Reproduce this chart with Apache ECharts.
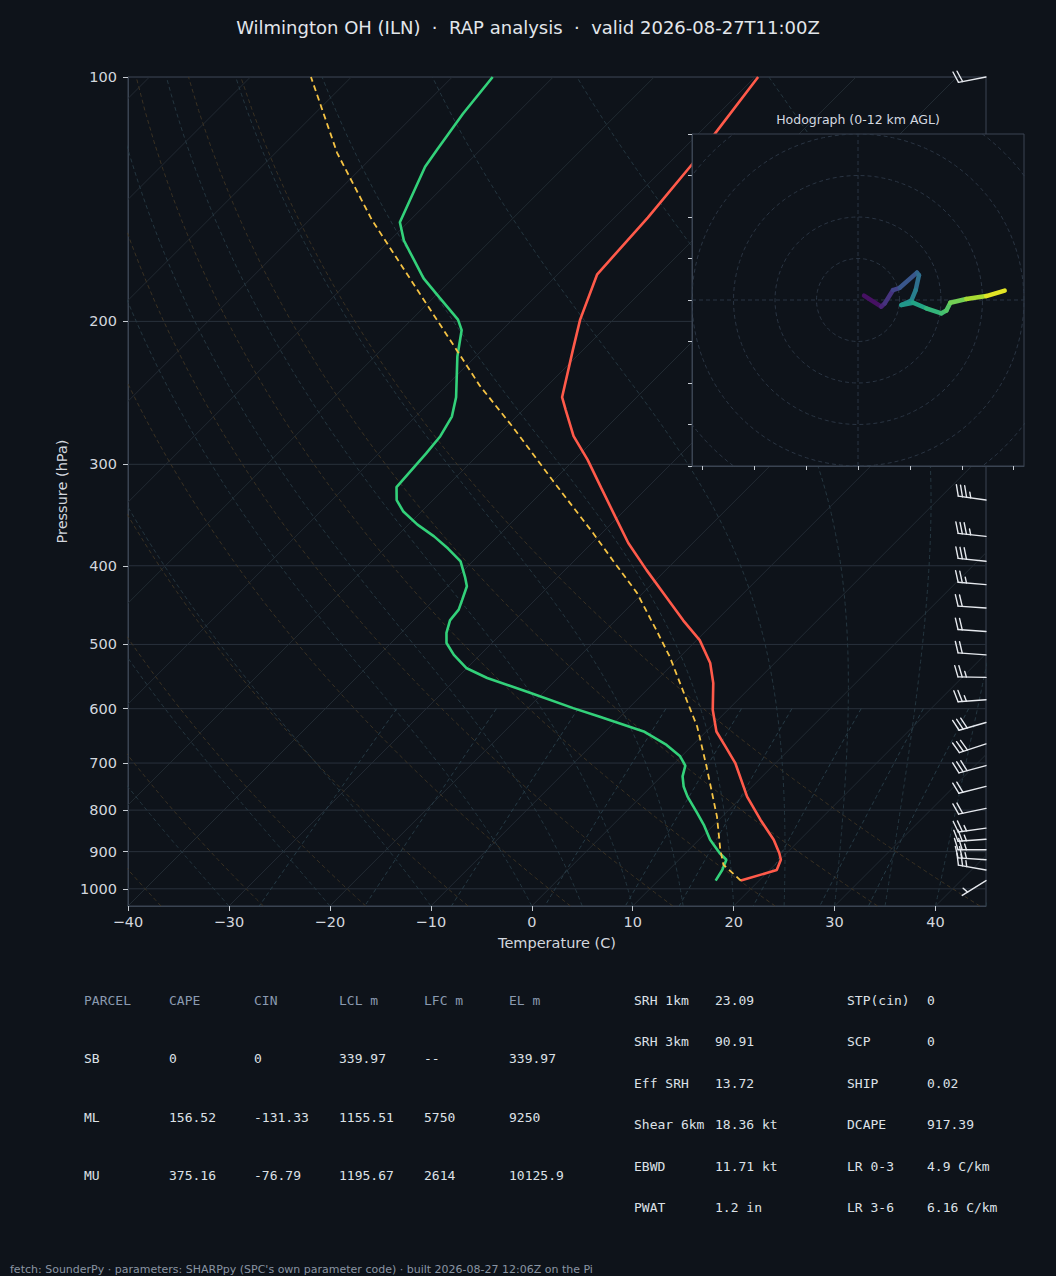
<!DOCTYPE html>
<html>
<head>
<meta charset="utf-8">
<title>Wilmington OH (ILN) skew-T</title>
<script src="https://cdn.jsdelivr.net/npm/echarts@6.0.0/dist/echarts.min.js"></script>
<style>
  html, body { margin: 0; padding: 0; background: #0e131a; }
  #chart { width: 1056px; height: 1276px; }
</style>
</head>
<body>
<div id="chart"></div>
<script>
// ---- sounding data ----
var P_TEMP = [977, 948, 921, 904, 870, 822, 770, 700, 668, 640, 602, 558, 527, 494, 467, 437, 405, 375, 348, 321, 296, 277, 257, 248, 217, 199, 175, 149, 128, 117, 100];
var T_TEMP = [18.2, 20.7, 20.1, 19.3, 17.4, 14.1, 10.5, 6.0, 3.4, 1.0, -1.5, -4.1, -6.4, -9.7, -13.3, -17.3, -21.9, -26.4, -30.3, -34.5, -38.7, -42.4, -45.8, -47.4, -51.0, -53.3, -56.1, -56.7, -57.6, -58.4, -59.7];

var P_DEW = [977, 948, 921, 904, 870, 834, 807, 770, 748, 727, 705, 686, 665, 640, 614, 599, 574, 550, 535, 515, 498, 484, 467, 453, 441, 424, 413, 395, 381, 368, 356, 343, 332, 320, 291, 277, 262, 248, 221, 205, 199, 187, 177, 159, 151, 129, 123, 111, 100];
var T_DEW = [15.7, 15.3, 14.7, 13.4, 11.1, 9.0, 7.2, 4.6, 3.2, 2.1, 1.3, -0.2, -2.6, -6.2, -12.0, -15.5, -21.2, -27.0, -30.0, -32.6, -34.5, -35.5, -36.4, -36.6, -37.2, -38.1, -39.2, -41.2, -43.7, -46.3, -49.1, -51.8, -53.6, -54.9, -55.3, -55.6, -56.4, -57.9, -61.8, -64.0, -65.4, -69.4, -72.9, -78.6, -80.8, -83.8, -84.3, -85.3, -86.0];

var P_PARCEL = [977, 934, 895, 815, 707, 631, 585, 518, 480, 432, 394, 365, 315, 270, 240, 217, 187, 150, 124, 100];
var T_PARCEL = [18.2, 14.9, 13.1, 9.5, 3.5, -1.4, -5.1, -11.0, -15.0, -20.6, -26.2, -30.8, -39.9, -49.3, -56.7, -62.5, -71.1, -83.8, -93.9, -104.0];

// wind barbs: pressure (hPa), speed (kt), direction (deg)
var P_BARB = [100, 332, 368, 395, 422, 451, 482, 515, 549, 585, 624, 663, 705, 748, 796, 842, 869, 895, 921, 948, 977];
var SPD_BARB = [20, 35, 35, 30, 25, 20, 20, 20, 25, 25, 30, 30, 30, 20, 20, 25, 25, 25, 25, 25, 5];
var DIR_BARB = [259, 278, 276, 276, 275, 274, 274, 274, 271, 266, 254, 252, 255, 256, 258, 262, 266, 270, 274, 280, 238];

// hodograph trace (u, v), bottom to top
var HODO_U = [2.9, 11.2, 12.9, 16.9, 20.1, 28.4, 29.4, 27.8, 25.7, 20.9, 26.5, 32.9, 40.2, 42.6, 44.5, 52.2, 61.8, 70.7];
var HODO_V = [2.1, -3.2, -1.6, 4.8, 5.9, 13.2, 12.0, 4.8, -0.3, -2.4, -1.3, -4.0, -6.4, -5.1, -1.3, 0.5, 1.9, 4.5];
var HODO_RINGS = [20, 40, 60, 80, 100];
var HODO_XTICKS = [-75, -50, -25, 0, 25, 50, 75];

// axes / reference lines
var X_TICKS = [-40, -30, -20, -10, 0, 10, 20, 30, 40];
var P_TICKS = [100, 200, 300, 400, 500, 600, 700, 800, 900, 1000];
var ISOTHERMS = [-120, -110, -100, -90, -80, -70, -60, -50, -40, -30, -20, -10, 0, 10, 20, 30, 40];
var DRY_T0 = [-40, -30, -20, -10, 0, 10, 20, 30, 40];
var MOIST_T0 = [-40, -30, -20, -10, 0, 5, 10, 15, 20, 25, 30, 35, 40, 45];
var MIX_W = [0.0004, 0.001, 0.002, 0.004, 0.007, 0.01, 0.016, 0.024, 0.032];

// stability table
var PARCEL_HEAD = ['PARCEL', 'CAPE', 'CIN', 'LCL m', 'LFC m', 'EL m'];
var PARCEL_ROWS = [
  ['SB', '0', '0', '339.97', '--', '339.97'],
  ['ML', '156.52', '-131.33', '1155.51', '5750', '9250'],
  ['MU', '375.16', '-76.79', '1195.67', '2614', '10125.9']
];
var PARAM_LEFT = [['SRH 1km', '23.09'], ['SRH 3km', '90.91'], ['Eff SRH', '13.72'], ['Shear 6km', '18.36 kt'], ['EBWD', '11.71 kt'], ['PWAT', '1.2 in']];
var PARAM_RIGHT = [['STP(cin)', '0'], ['SCP', '0'], ['SHIP', '0.02'], ['DCAPE', '917.39'], ['LR 0-3', '4.9 C/km'], ['LR 3-6', '6.16 C/km']];

// ---- layout ----
var BG = '#0e131a';
var GL = 128, GT = 77, GW = 858, GH = 829;
var T_MIN = -40, T_MAX = 45, P_BOT = 1050, P_TOP = 100;
// skew so that isotherms run at 45 degrees on screen
var SKEW = (GH / Math.log10(P_BOT / P_TOP)) / (GW / (T_MAX - T_MIN));

function skew(t, p) {
  return t + SKEW * (Math.log10(P_BOT) - Math.log10(p));
}
function profile(ps, ts) {
  return ps.map(function (p, i) { return [skew(ts[i], p), p]; });
}

// thermodynamics for the background lines
var RD = 287.04749, CPD = 1004.6662, LV = 2.50084e6, EPS = 0.6219569, KAPPA = RD / CPD;
function satVap(tc) { return 6.112 * Math.exp(17.67 * tc / (tc + 243.5)); }
function moistSlope(p, T) {
  var es = satVap(T - 273.15);
  var rs = EPS * es / (p - es);
  return (RD * T + LV * rs) / (CPD + (LV * LV * rs * EPS) / (RD * T * T)) / p;
}
function moistLine(t0) {
  var T = t0 + 273.15, p = P_BOT, pts = [[skew(t0, p), p]];
  while (p > P_TOP) {
    var h = Math.max(-5, P_TOP - p);
    var k1 = moistSlope(p, T);
    var k2 = moistSlope(p + h / 2, T + h / 2 * k1);
    var k3 = moistSlope(p + h / 2, T + h / 2 * k2);
    var k4 = moistSlope(p + h, T + h * k3);
    T += h / 6 * (k1 + 2 * k2 + 2 * k3 + k4);
    p += h;
    pts.push([skew(T - 273.15, p), p]);
  }
  return pts;
}
function dryLine(t0) {
  var pts = [];
  for (var p = P_BOT; p >= P_TOP; p -= 10) {
    var t = (t0 + 273.15) * Math.pow(p / 1000, KAPPA) - 273.15;
    pts.push([skew(t, p), p]);
  }
  return pts;
}
function mixLine(w) {
  var pts = [];
  for (var p = 600; p <= P_BOT; p += 10) {
    var e = p * w / (EPS + w);
    var l = Math.log(e / 6.112);
    var td = 243.5 * l / (17.67 - l);
    pts.push([skew(td, p), p]);
  }
  return pts;
}

function bgLine(data, color, type, width) {
  return {
    type: 'line', xAxisIndex: 0, yAxisIndex: 0, data: data,
    symbol: 'none', showSymbol: false, silent: true, z: 1, clip: true,
    lineStyle: { color: color, width: width || 0.9, type: type || 'solid' }
  };
}

var series = [];
P_TICKS.forEach(function (p) {
  series.push(bgLine([[T_MIN, p], [T_MAX, p]], '#29313c', 'solid', 1));
});
ISOTHERMS.forEach(function (t) {
  series.push(bgLine([[skew(t, P_BOT), P_BOT], [skew(t, P_TOP), P_TOP]], '#242c36', 'solid', 0.9));
});
DRY_T0.forEach(function (t) { series.push(bgLine(dryLine(t), '#3e3424', [4, 3])); });
MOIST_T0.forEach(function (t) { series.push(bgLine(moistLine(t), '#273a44', [4, 3])); });
MIX_W.forEach(function (w) { series.push(bgLine(mixLine(w), '#29404b', [4, 3])); });

// profiles
series.push({
  name: 'Temperature', type: 'line', xAxisIndex: 0, yAxisIndex: 0, z: 3, clip: true,
  data: profile(P_TEMP, T_TEMP), symbol: 'none', silent: true,
  lineStyle: { color: '#ff5a4a', width: 2.6 }
});
series.push({
  name: 'Dewpoint', type: 'line', xAxisIndex: 0, yAxisIndex: 0, z: 3, clip: true,
  data: profile(P_DEW, T_DEW), symbol: 'none', silent: true,
  lineStyle: { color: '#33d17a', width: 2.6 }
});
series.push({
  name: 'Parcel', type: 'line', xAxisIndex: 0, yAxisIndex: 0, z: 3, clip: true,
  data: profile(P_PARCEL, T_PARCEL), symbol: 'none', silent: true,
  lineStyle: { color: '#f5c344', width: 1.8, type: [6, 4] }
});

// wind barbs at the right edge
series.push({
  type: 'custom', coordinateSystem: 'cartesian2d', xAxisIndex: 0, yAxisIndex: 0,
  z: 4, clip: false, silent: true,
  data: P_BARB.map(function (p, i) { return [T_MAX, p, SPD_BARB[i], DIR_BARB[i]]; }),
  encode: { x: 0, y: 1 },
  renderItem: function (params, api) {
    var base = api.coord([api.value(0), api.value(1)]);
    var spd = api.value(2), rad = api.value(3) * Math.PI / 180;
    var L = 28, h = L * 0.4, w = L * 0.25, sp = L * 0.15;
    var dx = Math.sin(rad), dy = -Math.cos(rad);
    var nx = -dy, ny = dx;
    var st = { stroke: '#e6e9ee', lineWidth: 1.4, lineCap: 'round' };
    var kids = [{ type: 'line', shape: { x1: base[0], y1: base[1], x2: base[0] + dx * L, y2: base[1] + dy * L }, style: st }];
    var s = Math.round(spd / 5) * 5, full = Math.floor(s / 10), half = s % 10 >= 5;
    var off = L;
    for (var i = 0; i < full; i++) {
      var sx = base[0] + dx * off, sy = base[1] + dy * off;
      kids.push({ type: 'line', shape: { x1: sx, y1: sy, x2: sx + nx * h + dx * w / 2, y2: sy + ny * h + dy * w / 2 }, style: st });
      off -= sp;
    }
    if (half) {
      if (off === L) off -= 1.5 * sp;
      var hx = base[0] + dx * off, hy = base[1] + dy * off;
      kids.push({ type: 'line', shape: { x1: hx, y1: hy, x2: hx + nx * h / 2 + dx * w / 4, y2: hy + ny * h / 2 + dy * w / 4 }, style: st });
    }
    return { type: 'group', children: kids };
  }
});

// ---- hodograph ----
HODO_RINGS.forEach(function (r) {
  var pts = [];
  for (var a = 0; a <= 360; a += 3) {
    pts.push([r * Math.cos(a * Math.PI / 180), r * Math.sin(a * Math.PI / 180)]);
  }
  series.push({
    type: 'line', xAxisIndex: 1, yAxisIndex: 1, data: pts, symbol: 'none', silent: true, z: 7, clip: true,
    lineStyle: { color: '#2e3947', width: 0.9, type: [4, 3] }
  });
});
series.push({
  type: 'line', xAxisIndex: 1, yAxisIndex: 1, data: [[-80, 0], [80, 0]], symbol: 'none', silent: true, z: 7,
  lineStyle: { color: '#2e3947', width: 0.9, type: [4, 3] }
});
series.push({
  type: 'line', xAxisIndex: 1, yAxisIndex: 1, data: [[0, -80], [0, 80]], symbol: 'none', silent: true, z: 7,
  lineStyle: { color: '#2e3947', width: 0.9, type: [4, 3] }
});

var VIRIDIS = ['#440154', '#482475', '#414487', '#355f8d', '#2a788e', '#21918c', '#22a884', '#44bf70', '#7ad151', '#bddf26', '#fde725'];
function hexRgb(c) { return [parseInt(c.substr(1, 2), 16), parseInt(c.substr(3, 2), 16), parseInt(c.substr(5, 2), 16)]; }
function viridis(f) {
  f = Math.max(0, Math.min(1, f)) * 10;
  var i = Math.min(9, Math.floor(f)), k = f - i;
  var a = hexRgb(VIRIDIS[i]), b = hexRgb(VIRIDIS[i + 1]);
  return 'rgb(' + [0, 1, 2].map(function (j) { return Math.round(a[j] + (b[j] - a[j]) * k); }).join(',') + ')';
}
var cum = [0];
for (var i = 1; i < HODO_U.length; i++) {
  cum.push(cum[i - 1] + Math.hypot(HODO_U[i] - HODO_U[i - 1], HODO_V[i] - HODO_V[i - 1]));
}
var total = cum[cum.length - 1];
var hodoSegs = [];
for (var j = 1; j < HODO_U.length; j++) {
  hodoSegs.push({
    coords: [[HODO_U[j - 1], HODO_V[j - 1]], [HODO_U[j], HODO_V[j]]],
    lineStyle: { color: viridis((cum[j - 1] + cum[j]) / 2 / total) }
  });
}
series.push({
  type: 'lines', coordinateSystem: 'cartesian2d', xAxisIndex: 1, yAxisIndex: 1, z: 8, silent: true,
  data: hodoSegs, lineStyle: { width: 4.5, opacity: 1, cap: 'round', join: 'round' }
});

// ---- texts ----
var MONO = '13px "DejaVu Sans Mono", monospace';
var graphic = [];
PARCEL_HEAD.forEach(function (t, c) {
  graphic.push({ type: 'text', x: 84 + 85 * c, y: 1000, style: { text: t, fill: '#8a9ab0', font: MONO, verticalAlign: 'middle' } });
});
PARCEL_ROWS.forEach(function (row, r) {
  row.forEach(function (t, c) {
    graphic.push({ type: 'text', x: 84 + 85 * c, y: 1058.5 + 58.7 * r, style: { text: t, fill: '#dde1e7', font: MONO, verticalAlign: 'middle' } });
  });
});
PARAM_LEFT.forEach(function (row, r) {
  graphic.push({ type: 'text', x: 634, y: 1000 + 41.5 * r, style: { text: row[0], fill: '#dde1e7', font: MONO, verticalAlign: 'middle' } });
  graphic.push({ type: 'text', x: 715, y: 1000 + 41.5 * r, style: { text: row[1], fill: '#dde1e7', font: MONO, verticalAlign: 'middle' } });
});
PARAM_RIGHT.forEach(function (row, r) {
  graphic.push({ type: 'text', x: 847, y: 1000 + 41.5 * r, style: { text: row[0], fill: '#dde1e7', font: MONO, verticalAlign: 'middle' } });
  graphic.push({ type: 'text', x: 927, y: 1000 + 41.5 * r, style: { text: row[1], fill: '#dde1e7', font: MONO, verticalAlign: 'middle' } });
});
graphic.push({
  type: 'text', x: 858, y: 119, z: 10,
  style: { text: 'Hodograph (0-12 km AGL)', fill: '#d4d9e0', font: '12.5px "DejaVu Sans"', align: 'center', verticalAlign: 'middle' }
});
graphic.push({
  type: 'text', x: 10, y: 1269,
  style: { text: "fetch: SounderPy \u00b7 parameters: SHARPpy (SPC's own parameter code) \u00b7 built 2026-08-27 12:06Z on the Pi", fill: '#8a95a3', font: '11px "DejaVu Sans"', verticalAlign: 'middle' }
});

var tickLabel = { color: '#d3d7de', fontSize: 14.5, fontFamily: 'DejaVu Sans' };
var nameStyle = { color: '#d3d7de', fontSize: 14.5, fontFamily: 'DejaVu Sans' };
var spine = { color: '#3a4452', width: 1 };

var option = {
  backgroundColor: BG,
  animation: false,
  title: {
    text: 'Wilmington OH (ILN)  \u00b7  RAP analysis  \u00b7  valid 2026-08-27T11:00Z',
    left: 'center', top: 18, padding: 0,
    textStyle: { color: '#e2e6eb', fontSize: 18, fontWeight: 'normal', fontFamily: 'DejaVu Sans' }
  },
  grid: [
    { left: GL, top: GT, width: GW, height: GH, show: true, borderColor: '#3a4452', borderWidth: 1, backgroundColor: 'transparent', z: 0 },
    { left: 692, top: 134, width: 332, height: 332, show: true, borderColor: '#3a4452', borderWidth: 1, backgroundColor: BG, z: 5 }
  ],
  xAxis: [
    {
      type: 'value', gridIndex: 0, min: T_MIN, max: T_MAX,
      axisLine: { show: true, onZero: false, lineStyle: spine },
      axisTick: { show: true, customValues: X_TICKS, length: 5, lineStyle: { color: '#c7ccd3' } },
      axisLabel: Object.assign({ customValues: X_TICKS, margin: 8, formatter: function (v) { return String(v).replace('-', '\u2212'); } }, tickLabel),
      splitLine: { show: false },
      name: 'Temperature (C)', nameLocation: 'middle', nameGap: 29, nameTextStyle: nameStyle
    },
    {
      type: 'value', gridIndex: 1, min: -80, max: 80, z: 6,
      axisLine: { show: true, onZero: false, lineStyle: spine },
      axisTick: { show: true, customValues: HODO_XTICKS, length: 4, lineStyle: { color: '#c7ccd3' } },
      axisLabel: { show: false }, splitLine: { show: false }
    }
  ],
  yAxis: [
    {
      type: 'log', logBase: 10, gridIndex: 0, min: P_TOP, max: P_BOT, inverse: true,
      axisLine: { show: true, onZero: false, lineStyle: spine },
      axisTick: { show: true, customValues: P_TICKS, length: 5, lineStyle: { color: '#c7ccd3' } },
      axisLabel: Object.assign({ customValues: P_TICKS, margin: 11, formatter: function (v) { return String(Math.round(v)); } }, tickLabel),
      splitLine: { show: false }, minorTick: { show: false },
      name: 'Pressure (hPa)', nameLocation: 'middle', nameGap: 57, nameRotate: 90, nameTextStyle: nameStyle
    },
    {
      type: 'value', gridIndex: 1, min: -80, max: 80, interval: 20, z: 6,
      axisLine: { show: true, onZero: false, lineStyle: spine },
      axisTick: { show: true, length: 4, lineStyle: { color: '#c7ccd3' } },
      axisLabel: { show: false }, splitLine: { show: false }
    }
  ],
  graphic: graphic,
  series: series
};

var chart = echarts.init(document.getElementById('chart'), null, { renderer: 'svg', width: 1056, height: 1276 });
chart.setOption(option);
</script>
</body>
</html>
